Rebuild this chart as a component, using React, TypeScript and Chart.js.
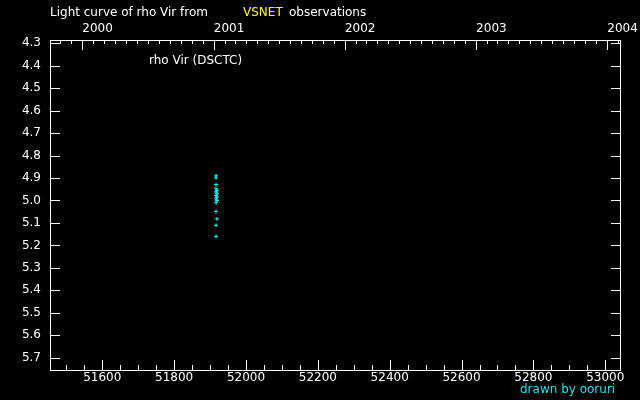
import { useEffect, useRef } from 'react';
import { Chart, registerables } from 'chart.js';
Chart.register(...registerables);

// Observations (JD - 2400000) and visual magnitudes of rho Vir
const jdValues = [51916.7, 51916.7, 51916.7, 51916.7, 51919.4, 51916.7, 51919.4, 51916.7, 51919.4, 51916.7, 51919.4, 51916.7, 51916.7, 51919.4, 51916.7, 51916.7];
const magValues = [4.890, 4.899, 4.929, 4.948, 4.955, 4.962, 4.970, 4.978, 4.985, 4.993, 5.000, 5.010, 5.049, 5.082, 5.111, 5.160];

// Axis ranges and tick labels
const xMin = 51454.5;
const xMax = 53041;
const yMin = 4.2853;
const yMax = 5.7548;
const xTickValues = [51600, 51800, 52000, 52200, 52400, 52600, 52800, 53000];
const yTickValues = [4.3, 4.4, 4.5, 4.6, 4.7, 4.8, 4.9, 5.0, 5.1, 5.2, 5.3, 5.4, 5.5, 5.6, 5.7];
const years = [2000, 2001, 2002, 2003, 2004];

const FONT = "'DejaVu Sans', sans-serif";

const jdOf = (y: number, m: number) => Date.UTC(y, m, 1) / 86400000 + 40587.5;

export default function App() {
  const ref = useRef<HTMLCanvasElement | null>(null);
  useEffect(() => {
    if (!ref.current) return;
    const framePlugin = {
      id: 'frame',
      beforeDraw(chart: any) {
        const { ctx, width, height } = chart;
        ctx.save();
        ctx.fillStyle = '#000';
        ctx.fillRect(0, 0, width, height);
        ctx.restore();
      },
      afterDraw(chart: any) {
        const { ctx, chartArea: a, scales } = chart;
        const x = scales.x;
        const y = scales.y;
        ctx.save();
        ctx.strokeStyle = '#fff';
        ctx.lineWidth = 1;
        ctx.strokeRect(a.left + 0.5, a.top + 0.5, a.right - a.left, a.bottom - a.top);
        ctx.beginPath();
        for (const v of yTickValues) {
          const py = Math.round(y.getPixelForValue(v)) + 0.5;
          ctx.moveTo(a.left, py); ctx.lineTo(a.left + 10, py);
          ctx.moveTo(a.right + 1, py); ctx.lineTo(a.right - 9, py);
        }
        for (let v = Math.ceil(xMin / 50) * 50; v <= xMax; v += 50) {
          const px = Math.round(x.getPixelForValue(v)) + 0.5;
          const len = v % 200 === 0 ? 10 : 5;
          ctx.moveTo(px, a.bottom); ctx.lineTo(px, a.bottom - len);
        }
        for (let yr = 1999; yr <= 2004; yr++) {
          for (let m = 0; m < 12; m++) {
            const v = jdOf(yr, m);
            if (v < xMin || v > xMax) continue;
            const px = Math.round(x.getPixelForValue(v)) + 0.5;
            const len = m === 0 ? 10 : 4;
            ctx.moveTo(px, a.top); ctx.lineTo(px, a.top + len);
          }
        }
        ctx.stroke();
        ctx.textBaseline = 'middle';
        ctx.textAlign = 'left';
        ctx.font = `12px ${FONT}`;
        ctx.fillStyle = '#fff';
        ctx.fillText('Light curve of rho Vir from', 50, 13);
        ctx.fillStyle = '#ffff00';
        ctx.fillText('VSNET', 243, 13);
        ctx.fillStyle = '#fff';
        ctx.fillText('observations', 289, 13);
        ctx.fillText('rho Vir (DSCTC)', 149, 61);
        ctx.fillStyle = '#30dcf0';
        ctx.fillText('drawn by ooruri', 520, 390);
        ctx.restore();
      },
    };
    const chart = new Chart(ref.current, {
      type: 'scatter',
      data: {
        datasets: [{
          data: jdValues.map((v, i) => ({ x: v, y: magValues[i] })),
          pointStyle: 'cross',
          radius: 2,
          borderWidth: 1,
          borderColor: '#00ffff',
          backgroundColor: '#00ffff',
        }],
      },
      options: {
        animation: false,
        responsive: false,
        maintainAspectRatio: false,
        layout: { padding: { left: 0, right: 20, top: 0, bottom: 0 } },
        plugins: { legend: { display: false }, tooltip: { enabled: false } },
        scales: {
          x: {
            type: 'linear', position: 'bottom', min: xMin, max: xMax,
            grid: { display: false, drawTicks: false },
            border: { display: false },
            afterBuildTicks: (s: any) => { s.ticks = xTickValues.map((v) => ({ value: v })); },
            afterFit: (s: any) => { s.height = 30; s.paddingLeft = 0; s.paddingRight = 0; },
            ticks: { color: '#fff', font: { family: FONT, size: 12 }, padding: 1, maxRotation: 0, autoSkip: false, callback: (v: any) => String(v) },
          },
          xTop: {
            type: 'linear', position: 'top', min: xMin, max: xMax,
            grid: { display: false, drawTicks: false },
            border: { display: false },
            afterBuildTicks: (s: any) => { s.ticks = years.map((yr) => ({ value: jdOf(yr, 0) })); },
            afterFit: (s: any) => { s.height = 40; s.paddingLeft = 0; s.paddingRight = 0; },
            ticks: {
              color: '#fff', font: { family: FONT, size: 12 }, padding: 4, maxRotation: 0, autoSkip: false, align: 'start',
              callback: (_v: any, i: number) => String(years[i]),
            },
          },
          y: {
            type: 'linear', position: 'left', min: yMin, max: yMax, reverse: true,
            grid: { display: false, drawTicks: false },
            border: { display: false },
            afterBuildTicks: (s: any) => { s.ticks = yTickValues.map((v) => ({ value: v })); },
            afterFit: (s: any) => { s.width = 50; s.paddingTop = 0; s.paddingBottom = 0; },
            ticks: { color: '#fff', font: { family: FONT, size: 12 }, padding: 9, autoSkip: false, callback: (v: any) => Number(v).toFixed(1) },
          },
        },
      },
      plugins: [framePlugin],
    } as any);
    return () => chart.destroy();
  }, []);
  return (
    <div style={{ position: 'absolute', left: 0, top: 0, width: 640, height: 400, background: '#000' }}>
      <canvas ref={ref} width={640} height={400} style={{ display: 'block', width: 640, height: 400 }} />
    </div>
  );
}
